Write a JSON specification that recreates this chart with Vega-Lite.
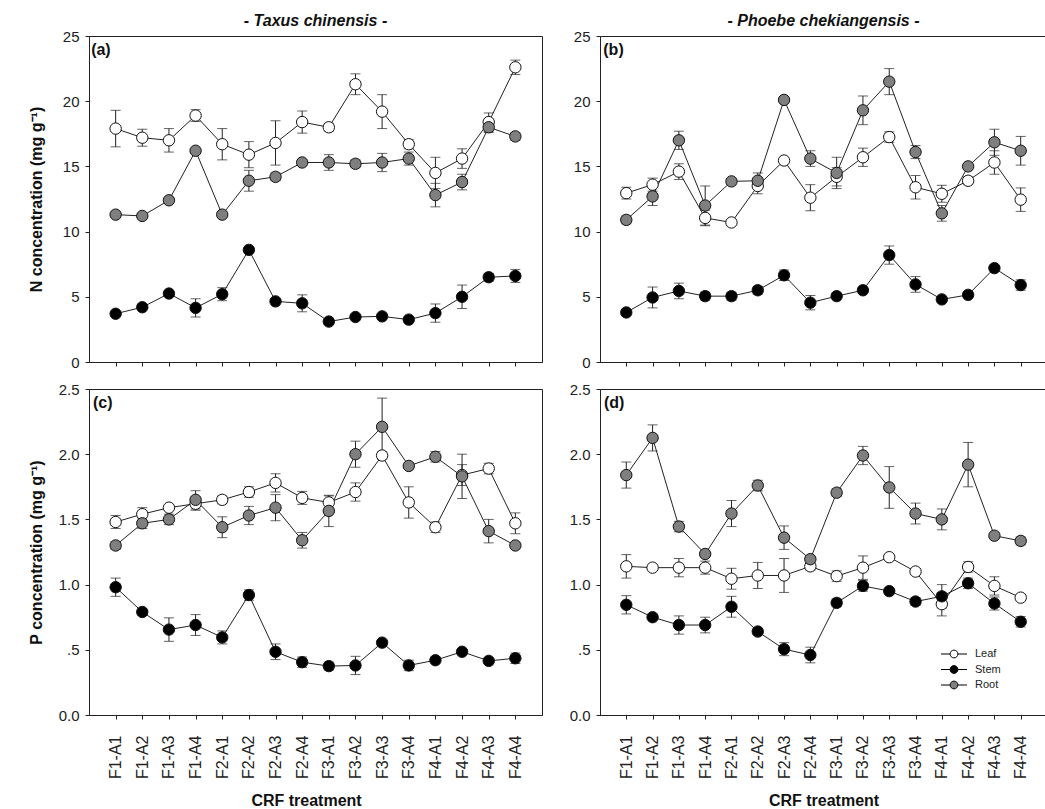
{
  "$schema": "https://vega.github.io/schema/vega-lite/v6.json",
  "padding": {"left": 27, "top": 12, "right": 0, "bottom": 0},
  "background": "white",
  "spacing": 25,
  "resolve": {"scale": {"fill": "independent"}},
  "datasets": {
    "a": [
      {"t":"F1-A1","g":"Leaf","v":17.9,"e":1.4},{"t":"F1-A2","g":"Leaf","v":17.2,"e":0.65},{"t":"F1-A3","g":"Leaf","v":17.0,"e":0.9},{"t":"F1-A4","g":"Leaf","v":18.9,"e":0.45},
      {"t":"F2-A1","g":"Leaf","v":16.7,"e":1.2},{"t":"F2-A2","g":"Leaf","v":15.9,"e":1.0},{"t":"F2-A3","g":"Leaf","v":16.8,"e":1.7},{"t":"F2-A4","g":"Leaf","v":18.4,"e":0.85},
      {"t":"F3-A1","g":"Leaf","v":18.0,"e":0.3},{"t":"F3-A2","g":"Leaf","v":21.3,"e":0.8},{"t":"F3-A3","g":"Leaf","v":19.2,"e":1.3},{"t":"F3-A4","g":"Leaf","v":16.7,"e":0.35},
      {"t":"F4-A1","g":"Leaf","v":14.5,"e":1.2},{"t":"F4-A2","g":"Leaf","v":15.6,"e":0.75},{"t":"F4-A3","g":"Leaf","v":18.4,"e":0.7},{"t":"F4-A4","g":"Leaf","v":22.6,"e":0.55},
      {"t":"F1-A1","g":"Stem","v":3.7,"e":0.1},{"t":"F1-A2","g":"Stem","v":4.2,"e":0.1},{"t":"F1-A3","g":"Stem","v":5.25,"e":0.1},{"t":"F1-A4","g":"Stem","v":4.15,"e":0.7},
      {"t":"F2-A1","g":"Stem","v":5.2,"e":0.5},{"t":"F2-A2","g":"Stem","v":8.6,"e":0.1},{"t":"F2-A3","g":"Stem","v":4.65,"e":0.1},{"t":"F2-A4","g":"Stem","v":4.5,"e":0.65},
      {"t":"F3-A1","g":"Stem","v":3.1,"e":0.1},{"t":"F3-A2","g":"Stem","v":3.45,"e":0.1},{"t":"F3-A3","g":"Stem","v":3.5,"e":0.1},{"t":"F3-A4","g":"Stem","v":3.25,"e":0.1},
      {"t":"F4-A1","g":"Stem","v":3.75,"e":0.7},{"t":"F4-A2","g":"Stem","v":5.0,"e":0.9},{"t":"F4-A3","g":"Stem","v":6.5,"e":0.3},{"t":"F4-A4","g":"Stem","v":6.6,"e":0.5},
      {"t":"F1-A1","g":"Root","v":11.3,"e":0.1},{"t":"F1-A2","g":"Root","v":11.2,"e":0.1},{"t":"F1-A3","g":"Root","v":12.4,"e":0.2},{"t":"F1-A4","g":"Root","v":16.2,"e":0.1},
      {"t":"F2-A1","g":"Root","v":11.3,"e":0.1},{"t":"F2-A2","g":"Root","v":13.9,"e":0.8},{"t":"F2-A3","g":"Root","v":14.2,"e":0.3},{"t":"F2-A4","g":"Root","v":15.3,"e":0.2},
      {"t":"F3-A1","g":"Root","v":15.3,"e":0.6},{"t":"F3-A2","g":"Root","v":15.2,"e":0.3},{"t":"F3-A3","g":"Root","v":15.3,"e":0.7},{"t":"F3-A4","g":"Root","v":15.6,"e":0.5},
      {"t":"F4-A1","g":"Root","v":12.8,"e":0.9},{"t":"F4-A2","g":"Root","v":13.8,"e":0.6},{"t":"F4-A3","g":"Root","v":18.0,"e":0.4},{"t":"F4-A4","g":"Root","v":17.3,"e":0.3}
    ],
    "b": [
      {"t":"F1-A1","g":"Leaf","v":12.95,"e":0.45},{"t":"F1-A2","g":"Leaf","v":13.6,"e":0.5},{"t":"F1-A3","g":"Leaf","v":14.6,"e":0.6},{"t":"F1-A4","g":"Leaf","v":11.05,"e":0.6},
      {"t":"F2-A1","g":"Leaf","v":10.7,"e":0.2},{"t":"F2-A2","g":"Leaf","v":13.5,"e":0.6},{"t":"F2-A3","g":"Leaf","v":15.45,"e":0.1},{"t":"F2-A4","g":"Leaf","v":12.6,"e":1.0},
      {"t":"F3-A1","g":"Leaf","v":14.2,"e":0.7},{"t":"F3-A2","g":"Leaf","v":15.7,"e":0.7},{"t":"F3-A3","g":"Leaf","v":17.25,"e":0.4},{"t":"F3-A4","g":"Leaf","v":13.4,"e":0.9},
      {"t":"F4-A1","g":"Leaf","v":12.9,"e":0.65},{"t":"F4-A2","g":"Leaf","v":13.9,"e":0.3},{"t":"F4-A3","g":"Leaf","v":15.3,"e":0.9},{"t":"F4-A4","g":"Leaf","v":12.45,"e":0.9},
      {"t":"F1-A1","g":"Stem","v":3.8,"e":0.1},{"t":"F1-A2","g":"Stem","v":4.95,"e":0.8},{"t":"F1-A3","g":"Stem","v":5.45,"e":0.6},{"t":"F1-A4","g":"Stem","v":5.05,"e":0.3},
      {"t":"F2-A1","g":"Stem","v":5.05,"e":0.3},{"t":"F2-A2","g":"Stem","v":5.5,"e":0.3},{"t":"F2-A3","g":"Stem","v":6.65,"e":0.4},{"t":"F2-A4","g":"Stem","v":4.55,"e":0.55},
      {"t":"F3-A1","g":"Stem","v":5.05,"e":0.2},{"t":"F3-A2","g":"Stem","v":5.5,"e":0.2},{"t":"F3-A3","g":"Stem","v":8.2,"e":0.7},{"t":"F3-A4","g":"Stem","v":5.95,"e":0.6},
      {"t":"F4-A1","g":"Stem","v":4.8,"e":0.1},{"t":"F4-A2","g":"Stem","v":5.15,"e":0.1},{"t":"F4-A3","g":"Stem","v":7.2,"e":0.1},{"t":"F4-A4","g":"Stem","v":5.9,"e":0.4},
      {"t":"F1-A1","g":"Root","v":10.9,"e":0.3},{"t":"F1-A2","g":"Root","v":12.7,"e":0.7},{"t":"F1-A3","g":"Root","v":17.0,"e":0.7},{"t":"F1-A4","g":"Root","v":12.0,"e":1.5},
      {"t":"F2-A1","g":"Root","v":13.85,"e":0.1},{"t":"F2-A2","g":"Root","v":13.9,"e":0.6},{"t":"F2-A3","g":"Root","v":20.1,"e":0.1},{"t":"F2-A4","g":"Root","v":15.6,"e":0.6},
      {"t":"F3-A1","g":"Root","v":14.5,"e":1.2},{"t":"F3-A2","g":"Root","v":19.3,"e":1.1},{"t":"F3-A3","g":"Root","v":21.5,"e":1.0},{"t":"F3-A4","g":"Root","v":16.1,"e":0.5},
      {"t":"F4-A1","g":"Root","v":11.4,"e":0.6},{"t":"F4-A2","g":"Root","v":15.0,"e":0.1},{"t":"F4-A3","g":"Root","v":16.85,"e":1.0},{"t":"F4-A4","g":"Root","v":16.2,"e":1.1}
    ],
    "c": [
      {"t":"F1-A1","g":"Leaf","v":1.48,"e":0.05},{"t":"F1-A2","g":"Leaf","v":1.54,"e":0.05},{"t":"F1-A3","g":"Leaf","v":1.59,"e":0.02},{"t":"F1-A4","g":"Leaf","v":1.62,"e":0.05},
      {"t":"F2-A1","g":"Leaf","v":1.65,"e":0.03},{"t":"F2-A2","g":"Leaf","v":1.71,"e":0.04},{"t":"F2-A3","g":"Leaf","v":1.78,"e":0.07},{"t":"F2-A4","g":"Leaf","v":1.665,"e":0.05},
      {"t":"F3-A1","g":"Leaf","v":1.63,"e":0.05},{"t":"F3-A2","g":"Leaf","v":1.71,"e":0.07},{"t":"F3-A3","g":"Leaf","v":1.99,"e":0.03},{"t":"F3-A4","g":"Leaf","v":1.63,"e":0.12},
      {"t":"F4-A1","g":"Leaf","v":1.44,"e":0.04},{"t":"F4-A2","g":"Leaf","v":1.84,"e":0.08},{"t":"F4-A3","g":"Leaf","v":1.89,"e":0.04},{"t":"F4-A4","g":"Leaf","v":1.47,"e":0.08},
      {"t":"F1-A1","g":"Stem","v":0.98,"e":0.07},{"t":"F1-A2","g":"Stem","v":0.79,"e":0.02},{"t":"F1-A3","g":"Stem","v":0.655,"e":0.09},{"t":"F1-A4","g":"Stem","v":0.69,"e":0.08},
      {"t":"F2-A1","g":"Stem","v":0.595,"e":0.05},{"t":"F2-A2","g":"Stem","v":0.92,"e":0.04},{"t":"F2-A3","g":"Stem","v":0.485,"e":0.06},{"t":"F2-A4","g":"Stem","v":0.405,"e":0.04},
      {"t":"F3-A1","g":"Stem","v":0.375,"e":0.03},{"t":"F3-A2","g":"Stem","v":0.38,"e":0.07},{"t":"F3-A3","g":"Stem","v":0.555,"e":0.02},{"t":"F3-A4","g":"Stem","v":0.38,"e":0.04},
      {"t":"F4-A1","g":"Stem","v":0.42,"e":0.02},{"t":"F4-A2","g":"Stem","v":0.485,"e":0.02},{"t":"F4-A3","g":"Stem","v":0.415,"e":0.02},{"t":"F4-A4","g":"Stem","v":0.435,"e":0.04},
      {"t":"F1-A1","g":"Root","v":1.30,"e":0.03},{"t":"F1-A2","g":"Root","v":1.47,"e":0.04},{"t":"F1-A3","g":"Root","v":1.50,"e":0.04},{"t":"F1-A4","g":"Root","v":1.65,"e":0.07},
      {"t":"F2-A1","g":"Root","v":1.44,"e":0.08},{"t":"F2-A2","g":"Root","v":1.53,"e":0.07},{"t":"F2-A3","g":"Root","v":1.59,"e":0.1},{"t":"F2-A4","g":"Root","v":1.34,"e":0.06},
      {"t":"F3-A1","g":"Root","v":1.565,"e":0.12},{"t":"F3-A2","g":"Root","v":2.0,"e":0.1},{"t":"F3-A3","g":"Root","v":2.21,"e":0.22},{"t":"F3-A4","g":"Root","v":1.91,"e":0.02},
      {"t":"F4-A1","g":"Root","v":1.98,"e":0.04},{"t":"F4-A2","g":"Root","v":1.83,"e":0.17},{"t":"F4-A3","g":"Root","v":1.41,"e":0.09},{"t":"F4-A4","g":"Root","v":1.30,"e":0.02}
    ],
    "d": [
      {"t":"F1-A1","g":"Leaf","v":1.14,"e":0.09},{"t":"F1-A2","g":"Leaf","v":1.13,"e":0.02},{"t":"F1-A3","g":"Leaf","v":1.13,"e":0.07},{"t":"F1-A4","g":"Leaf","v":1.13,"e":0.05},
      {"t":"F2-A1","g":"Leaf","v":1.045,"e":0.08},{"t":"F2-A2","g":"Leaf","v":1.07,"e":0.1},{"t":"F2-A3","g":"Leaf","v":1.07,"e":0.13},{"t":"F2-A4","g":"Leaf","v":1.14,"e":0.03},
      {"t":"F3-A1","g":"Leaf","v":1.065,"e":0.04},{"t":"F3-A2","g":"Leaf","v":1.13,"e":0.09},{"t":"F3-A3","g":"Leaf","v":1.21,"e":0.02},{"t":"F3-A4","g":"Leaf","v":1.10,"e":0.02},
      {"t":"F4-A1","g":"Leaf","v":0.85,"e":0.09},{"t":"F4-A2","g":"Leaf","v":1.135,"e":0.04},{"t":"F4-A3","g":"Leaf","v":0.99,"e":0.07},{"t":"F4-A4","g":"Leaf","v":0.90,"e":0.02},
      {"t":"F1-A1","g":"Stem","v":0.845,"e":0.07},{"t":"F1-A2","g":"Stem","v":0.75,"e":0.02},{"t":"F1-A3","g":"Stem","v":0.69,"e":0.07},{"t":"F1-A4","g":"Stem","v":0.69,"e":0.06},
      {"t":"F2-A1","g":"Stem","v":0.83,"e":0.08},{"t":"F2-A2","g":"Stem","v":0.64,"e":0.02},{"t":"F2-A3","g":"Stem","v":0.505,"e":0.05},{"t":"F2-A4","g":"Stem","v":0.46,"e":0.06},
      {"t":"F3-A1","g":"Stem","v":0.86,"e":0.03},{"t":"F3-A2","g":"Stem","v":0.99,"e":0.04},{"t":"F3-A3","g":"Stem","v":0.95,"e":0.02},{"t":"F3-A4","g":"Stem","v":0.87,"e":0.03},
      {"t":"F4-A1","g":"Stem","v":0.91,"e":0.09},{"t":"F4-A2","g":"Stem","v":1.01,"e":0.04},{"t":"F4-A3","g":"Stem","v":0.855,"e":0.05},{"t":"F4-A4","g":"Stem","v":0.715,"e":0.04},
      {"t":"F1-A1","g":"Root","v":1.84,"e":0.1},{"t":"F1-A2","g":"Root","v":2.125,"e":0.1},{"t":"F1-A3","g":"Root","v":1.445,"e":0.04},{"t":"F1-A4","g":"Root","v":1.235,"e":0.02},
      {"t":"F2-A1","g":"Root","v":1.545,"e":0.1},{"t":"F2-A2","g":"Root","v":1.76,"e":0.04},{"t":"F2-A3","g":"Root","v":1.36,"e":0.09},{"t":"F2-A4","g":"Root","v":1.195,"e":0.02},
      {"t":"F3-A1","g":"Root","v":1.705,"e":0.03},{"t":"F3-A2","g":"Root","v":1.99,"e":0.07},{"t":"F3-A3","g":"Root","v":1.745,"e":0.16},{"t":"F3-A4","g":"Root","v":1.545,"e":0.08},
      {"t":"F4-A1","g":"Root","v":1.5,"e":0.08},{"t":"F4-A2","g":"Root","v":1.92,"e":0.17},{"t":"F4-A3","g":"Root","v":1.375,"e":0.02},{"t":"F4-A4","g":"Root","v":1.335,"e":0.03}
    ]
  },
  "hconcat": [
    {
      "bounds": "flush",
      "spacing": 27,
      "resolve": {"scale": {"fill": "independent"}},
      "vconcat": [
        {
          "width": 453, "height": 326,
          "title": {"text": "- Taxus chinensis -", "anchor": "middle", "frame": "group", "offset": 0, "dx": 0, "fontStyle": "italic"},
          "encoding": {
            "x": {"field": "t", "type": "ordinal", "scale": {"type": "point", "padding": 1}, "axis": {"labels": false, "title": null}},
            "y": {"field": "v", "type": "quantitative", "scale": {"domain": [0, 25], "nice": false}, "axis": {"values": [0, 5, 10, 15, 20, 25], "title": "N concentration (mg g⁻¹)", "titleX": -53, "titleY": 163, "titleBaseline": "middle"}}
          },
          "layer": [
            {"data": {"name": "a"}, "mark": {"type": "line", "color": "#222", "strokeWidth": 1}, "encoding": {"detail": {"field": "g"}}},
            {"data": {"name": "a"}, "mark": {"type": "errorbar", "color": "#222", "thickness": 1, "ticks": {"size": 10, "color": "#222", "thickness": 1}}, "encoding": {"yError": {"field": "e"}}},
            {"data": {"name": "a"}, "mark": {"type": "point", "filled": true, "size": 130, "stroke": "#111", "strokeWidth": 1, "opacity": 1}, "encoding": {"fill": {"field": "g", "type": "nominal", "scale": {"domain": ["Leaf", "Stem", "Root"], "range": ["#ffffff", "#000000", "#7f7f7f"]}, "legend": null}}},
            {"data": {"values": [{"t": "F1-A1", "v": 25, "lab": "(a)"}]}, "mark": {"type": "text", "align": "left", "baseline": "alphabetic", "dx": -24.5, "dy": 19, "fontSize": 16, "fontWeight": "bold", "font": "Liberation Sans", "color": "#111"}, "encoding": {"text": {"field": "lab", "type": "nominal"}}}
          ]
        },
        {
          "width": 453, "height": 326,
          "data": {"name": "c"},
          "title": {"text": "(c)"},
          "encoding": {
            "x": {"field": "t", "type": "ordinal", "scale": {"type": "point", "padding": 1}, "axis": {"title": "CRF treatment", "labelAngle": -90, "labelPadding": 16, "titleY": 90, "titleX": 217, "titleBaseline": "alphabetic"}},
            "y": {"field": "v", "type": "quantitative", "scale": {"domain": [0, 2.5], "nice": false}, "axis": {"values": [0, 0.5, 1, 1.5, 2, 2.5], "labelExpr": "datum.value == 0.5 ? '.5' : format(datum.value, '.1f')", "title": "P concentration (mg g⁻¹)", "titleX": -53, "titleY": 163, "titleBaseline": "middle"}}
          },
          "layer": [
            {"mark": {"type": "line", "color": "#222", "strokeWidth": 1}, "encoding": {"detail": {"field": "g"}}},
            {"mark": {"type": "errorbar", "color": "#222", "thickness": 1, "ticks": {"size": 10, "color": "#222", "thickness": 1}}, "encoding": {"yError": {"field": "e"}}},
            {"mark": {"type": "point", "filled": true, "size": 130, "stroke": "#111", "strokeWidth": 1, "opacity": 1}, "encoding": {"fill": {"field": "g", "type": "nominal", "scale": {"domain": ["Leaf", "Stem", "Root"], "range": ["#ffffff", "#000000", "#7f7f7f"]}, "legend": null}}}
          ]
        }
      ]
    },
    {
      "bounds": "flush",
      "spacing": 27,
      "resolve": {"scale": {"fill": "independent"}},
      "vconcat": [
        {
          "width": 447, "height": 326,
          "title": {"text": "- Phoebe chekiangensis -", "anchor": "middle", "frame": "group", "offset": 0, "dx": 0, "fontStyle": "italic"},
          "encoding": {
            "x": {"field": "t", "type": "ordinal", "scale": {"type": "point", "padding": 1}, "axis": {"labels": false, "title": null}},
            "y": {"field": "v", "type": "quantitative", "scale": {"domain": [0, 25], "nice": false}, "axis": {"values": [0, 5, 10, 15, 20, 25], "title": null}}
          },
          "layer": [
            {"data": {"name": "b"}, "mark": {"type": "line", "color": "#222", "strokeWidth": 1}, "encoding": {"detail": {"field": "g"}}},
            {"data": {"name": "b"}, "mark": {"type": "errorbar", "color": "#222", "thickness": 1, "ticks": {"size": 10, "color": "#222", "thickness": 1}}, "encoding": {"yError": {"field": "e"}}},
            {"data": {"name": "b"}, "mark": {"type": "point", "filled": true, "size": 130, "stroke": "#111", "strokeWidth": 1, "opacity": 1}, "encoding": {"fill": {"field": "g", "type": "nominal", "scale": {"domain": ["Leaf", "Stem", "Root"], "range": ["#ffffff", "#000000", "#7f7f7f"]}, "legend": null}}},
            {"data": {"values": [{"t": "F1-A1", "v": 25, "lab": "(b)"}]}, "mark": {"type": "text", "align": "left", "baseline": "alphabetic", "dx": -23, "dy": 19, "fontSize": 16, "fontWeight": "bold", "font": "Liberation Sans", "color": "#111"}, "encoding": {"text": {"field": "lab", "type": "nominal"}}}
          ]
        },
        {
          "width": 447, "height": 326,
          "data": {"name": "d"},
          "title": {"text": "(d)"},
          "encoding": {
            "x": {"field": "t", "type": "ordinal", "scale": {"type": "point", "padding": 1}, "axis": {"title": "CRF treatment", "labelAngle": -90, "labelPadding": 16, "titleY": 90, "titleBaseline": "alphabetic"}},
            "y": {"field": "v", "type": "quantitative", "scale": {"domain": [0, 2.5], "nice": false}, "axis": {"values": [0, 0.5, 1, 1.5, 2, 2.5], "labelExpr": "datum.value == 0.5 ? '.5' : format(datum.value, '.1f')", "title": null}}
          },
          "layer": [
            {"mark": {"type": "line", "color": "#222", "strokeWidth": 1}, "encoding": {"detail": {"field": "g"}}},
            {"mark": {"type": "errorbar", "color": "#222", "thickness": 1, "ticks": {"size": 10, "color": "#222", "thickness": 1}}, "encoding": {"yError": {"field": "e"}}},
            {"mark": {"type": "point", "filled": true, "size": 130, "stroke": "#111", "strokeWidth": 1, "opacity": 1}, "encoding": {"fill": {"field": "g", "type": "nominal", "scale": {"domain": ["Leaf", "Stem", "Root"], "range": ["#ffffff", "#000000", "#7f7f7f"]}, "legend": {"orient": "none", "legendX": 347, "legendY": 258, "title": null, "padding": 0, "symbolType": "M-2,0H-0.6M0.6,0H2M-0.6,0A0.6,0.6,0,1,1,0.6,0A0.6,0.6,0,1,1,-0.6,0Z", "symbolSize": 169, "symbolStrokeColor": "#000", "symbolStrokeWidth": 1, "symbolOpacity": 1, "labelFontSize": 11, "labelFont": "Liberation Sans", "labelColor": "#222", "labelOffset": 14, "rowPadding": 2.5}}}}
          ]
        }
      ]
    }
  ],
  "config": {
    "view": {"stroke": "#222", "strokeWidth": 1},
    "title": {"anchor": "start", "frame": "group", "offset": -29, "baseline": "alphabetic", "dx": 4, "fontSize": 16, "fontWeight": "bold", "font": "Liberation Sans", "color": "#111"},
    "axis": {"grid": false, "labelFont": "Liberation Sans", "labelFontSize": 15, "labelColor": "#222", "tickColor": "#222", "domainColor": "#222", "tickSize": 4, "titleFont": "Liberation Sans", "titleFontWeight": "bold", "titleFontSize": 16, "titleColor": "#111"},
    "axisX": {"labelFontSize": 16},
    "axisY": {"labelPadding": 6}
  }
}
